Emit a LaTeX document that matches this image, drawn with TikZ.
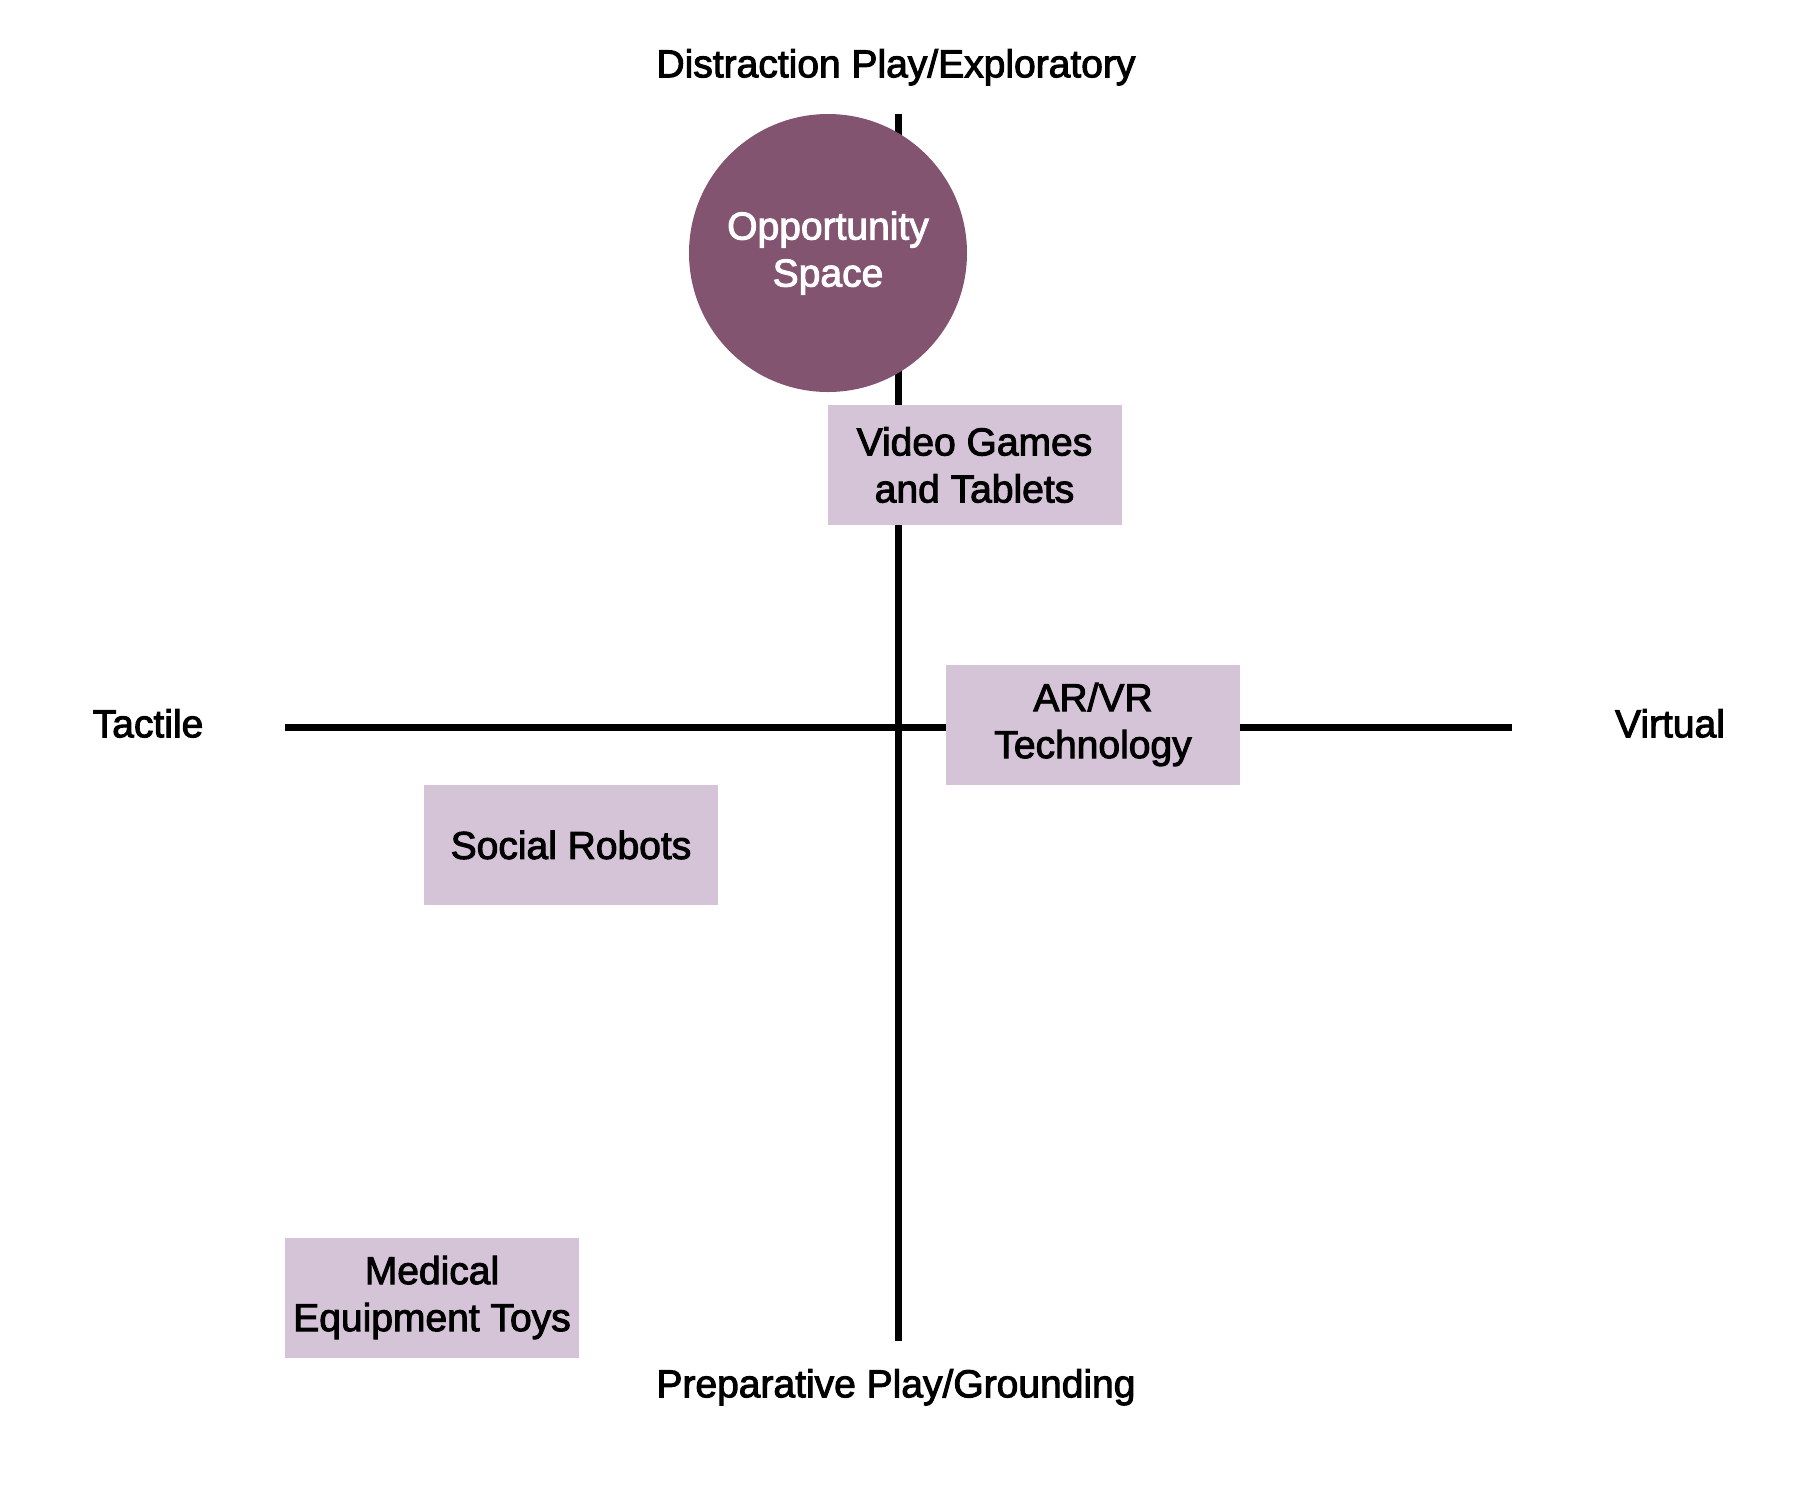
\documentclass[tikz,border=0pt]{standalone}
\usepackage{fontspec}
\setmainfont{Liberation Sans}
\newfontfamily\medfont{Liberation Sans}[FakeBold=2.5]
\usepackage{tikz}
\usetikzlibrary{positioning}

\definecolor{plum}{HTML}{835470}
\definecolor{lilac}{HTML}{D5C3D7}

\tikzset{
  axis/.style={line width=3.5pt},
  axislabel/.style={font=\medfont\fontsize{19.5}{24}\selectfont, inner sep=0pt, anchor=mid},
  itembox/.style={fill=lilac, minimum width=147pt, minimum height=60pt, inner sep=0pt,
    align=center, font=\medfont\fontsize{19.5}{23.5}\selectfont},
  opportunity/.style={circle, fill=plum, minimum size=139pt, inner sep=0pt,
    align=center, text=white, font=\medfont\fontsize{19.5}{23.5}\selectfont}
}

\begin{document}
\begin{tikzpicture}[x=0.5pt, y=-0.5pt]
  \useasboundingbox (0,0) rectangle (1817,1496);

  % axes
  \coordinate (top) at (898,114);
  \coordinate (bottom) at (898,1341);
  \coordinate (left) at (285,727);
  \coordinate (right) at (1512,727);
  \draw[axis] (top) -- (bottom);
  \draw[axis] (left) -- (right);

  % axis labels
  \node[axislabel] (distraction) at (896,72) {Distraction Play/Exploratory};
  \node[axislabel] (preparative) at (896,1392) {Preparative Play/Grounding};
  \node[axislabel] (tactile) at (148,732) {Tactile};
  \node[axislabel] (virtual) at (1670,732) {Virtual};

  % items
  \node[opportunity] (opp) at (828,253) {Opportunity\\Space};
  \node[itembox] (games) at (974.5,465) {Video Games\\and Tablets};
  \node[itembox] (arvr) at (1093,724.5) {AR/VR\\Technology};
  \node[itembox] (robots) at (571,845) {Social Robots};
  \node[itembox] (medical) at (432,1297.5) {Medical\\Equipment Toys};
\end{tikzpicture}
\end{document}
